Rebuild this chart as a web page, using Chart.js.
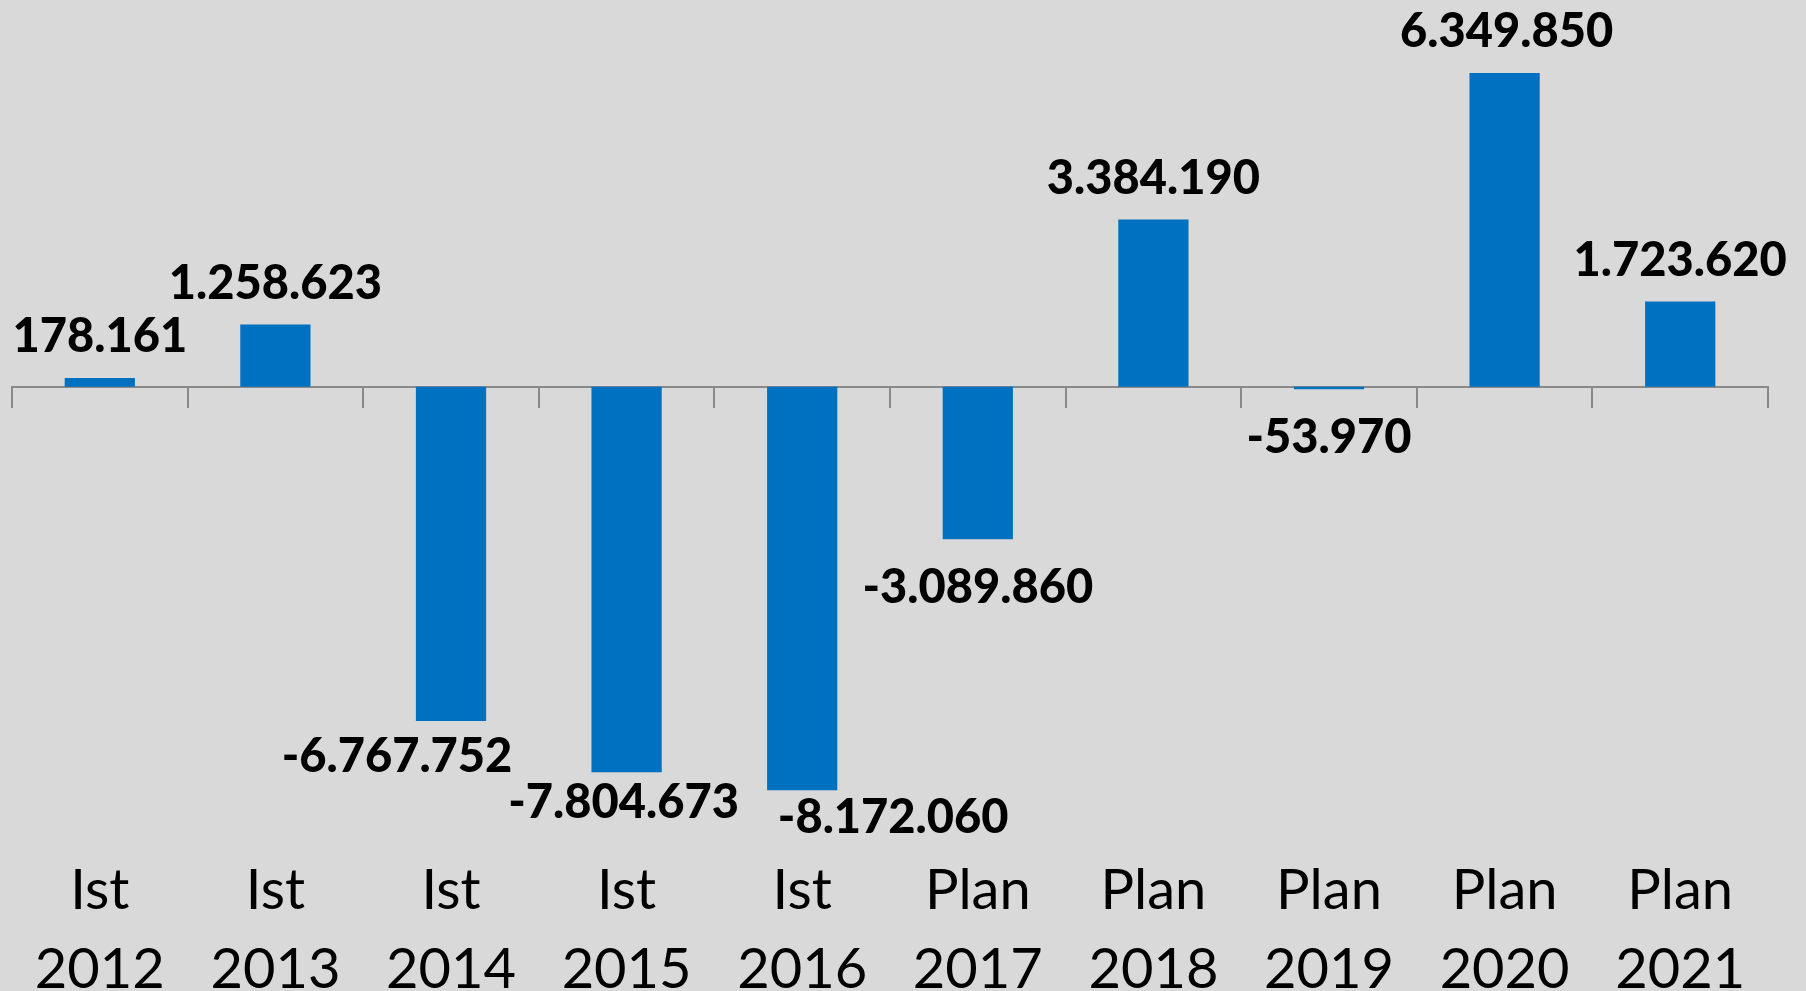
<!DOCTYPE html>
<html>
<head>
<meta charset="utf-8">
<script src="https://cdn.jsdelivr.net/npm/chart.js@4"></script>
<style>
  html, body { margin: 0; padding: 0; background: #D9D9D9; }
  #wrap { width: 1806px; height: 991px; }
</style>
</head>
<body>
<div id="wrap"><canvas id="c" width="1806" height="991"></canvas></div>
<script>
// ---- data ----
const kinds  = ['Ist', 'Ist', 'Ist', 'Ist', 'Ist', 'Plan', 'Plan', 'Plan', 'Plan', 'Plan'];
const years  = ['2012', '2013', '2014', '2015', '2016', '2017', '2018', '2019', '2020', '2021'];
const values = [178161, 1258623, -6767752, -7804673, -8172060, -3089860, 3384190, -53970, 6349850, 1723620];

// ---- label placement (style, not data) ----
const labelDx = [0, 0, -54, -3, 91, 0, 0, 0, 2, 0];
const labelDyNeg = [0, 0, 51, 46, 43, 64, 0, 64, 0, 0];
const labelDyPos = -26;

const labels = kinds.map((k, i) => [k, years[i]]);

function fmtDE(v) {
  const s = Math.abs(v).toString().replace(/\B(?=(\d{3})+(?!\d))/g, '.');
  return (v < 0 ? '-' : '') + s;
}

const valueLabels = {
  id: 'valueLabels',
  afterDatasetsDraw(chart) {
    const ctx = chart.ctx;
    const meta = chart.getDatasetMeta(0);
    ctx.save();
    ctx.font = '900 47px Lato';
    ctx.fillStyle = '#000000';
    ctx.textAlign = 'center';
    ctx.textBaseline = 'alphabetic';
    meta.data.forEach((bar, i) => {
      const v = values[i];
      const y = bar.y + (v >= 0 ? labelDyPos : labelDyNeg[i]);
      ctx.fillText(fmtDE(v), bar.x + labelDx[i], y);
    });
    ctx.restore();
  }
};

new Chart(document.getElementById('c'), {
  type: 'bar',
  data: {
    labels: labels,
    datasets: [{
      data: values,
      backgroundColor: '#0070C0',
      borderWidth: 0,
      barPercentage: 0.4,
      categoryPercentage: 1.0
    }]
  },
  options: {
    responsive: false,
    animation: false,
    devicePixelRatio: 1,
    layout: { padding: { left: 12, right: 38, top: 0, bottom: 0 } },
    plugins: { legend: { display: false }, tooltip: { enabled: false } },
    scales: {
      y: {
        display: false,
        min: -9197000,
        max: 7828000
      },
      x: {
        position: 'bottom',
        grid: { display: false, drawTicks: false },
        border: { display: false },
        ticks: {
          color: '#000000',
          font: { family: 'Lato', size: 56, lineHeight: 1.41 },
          padding: 10,
          maxRotation: 0,
          autoSkip: false
        },
        afterFit(scale) { scale.height = 150; }
      },
      x2: {
        axis: 'x',
        position: { y: 0 },
        offset: true,
        grid: {
          offset: true,
          drawOnChartArea: false,
          drawTicks: true,
          tickLength: 20,
          color: '#898989',
          lineWidth: 2
        },
        border: { display: true, color: '#898989', width: 2 },
        ticks: { display: false }
      }
    }
  },
  plugins: [valueLabels]
});
</script>
</body>
</html>
